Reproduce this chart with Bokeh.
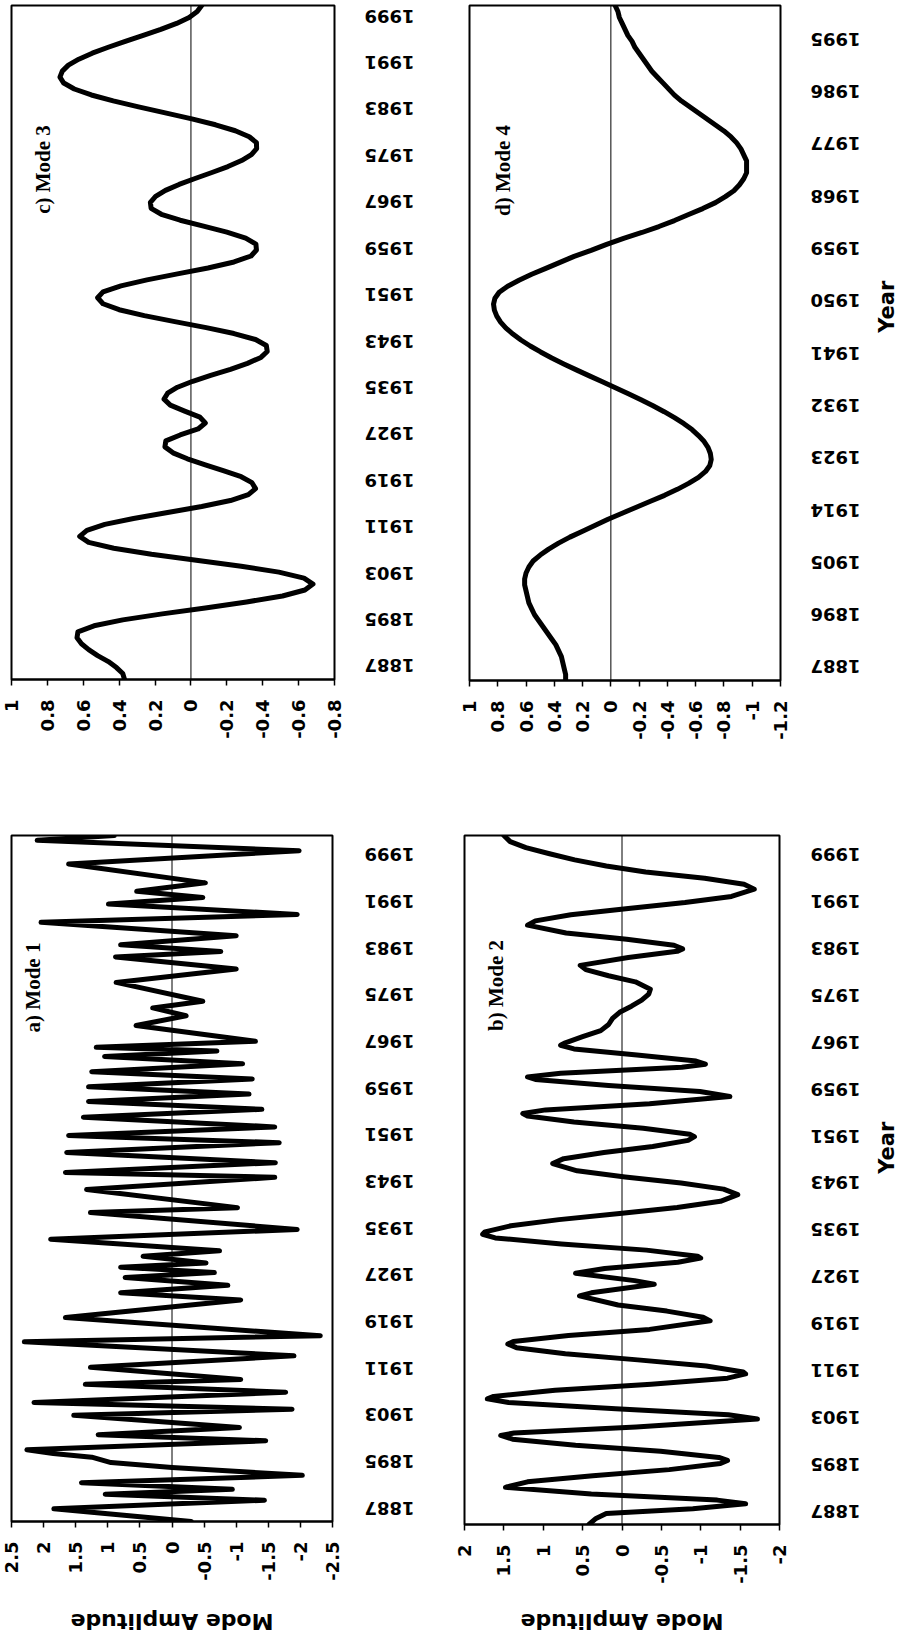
import math
from bokeh.plotting import figure
from bokeh.models import Range1d, FixedTicker, Span, Label, NumeralTickFormatter
from bokeh.core.properties import value
from bokeh.layouts import row, column
from bokeh.embed import file_html
from bokeh.resources import INLINE

# ---------------- data ----------------
YEARS = list(range(1887, 2001))

MODE3 = [0.37, 0.38, 0.415, 0.46, 0.52, 0.57, 0.61, 0.635, 0.63, 0.54,
         0.38, 0.16, -0.08, -0.31, -0.51, -0.635, -0.68, -0.63, -0.49, -0.28,
         -0.03, 0.22, 0.43, 0.57, 0.62, 0.58, 0.48, 0.32, 0.13, -0.06,
         -0.22, -0.32, -0.36, -0.34, -0.28, -0.18, -0.08, 0.02, 0.10, 0.145,
         0.14, 0.06, -0.04, -0.08, -0.05, 0.035, 0.115, 0.15, 0.13, 0.075,
         -0.01, -0.11, -0.22, -0.315, -0.39, -0.425, -0.42, -0.36, -0.24, -0.085,
         0.09, 0.26, 0.40, 0.49, 0.52, 0.49, 0.39, 0.245, 0.075, -0.095,
         -0.24, -0.335, -0.365, -0.362, -0.305, -0.20, -0.07, 0.06, 0.165, 0.222,
         0.226, 0.197, 0.142, 0.066, -0.023, -0.117, -0.206, -0.282, -0.337, -0.366,
         -0.365, -0.325, -0.247, -0.137, -0.005, 0.143, 0.292, 0.433, 0.555, 0.65,
         0.709, 0.73, 0.717, 0.683, 0.625, 0.55, 0.461, 0.366, 0.266, 0.168,
         0.08, 0.01, -0.035, -0.06]

MODE4 = [0.32, 0.32, 0.33, 0.34, 0.35, 0.37, 0.39, 0.42, 0.45, 0.48,
         0.51, 0.54, 0.56, 0.58, 0.59, 0.60, 0.61, 0.61, 0.60, 0.58,
         0.55, 0.50, 0.44, 0.37, 0.29, 0.20, 0.11, 0.02, -0.08, -0.18,
         -0.28, -0.38, -0.47, -0.55, -0.62, -0.67, -0.70, -0.71, -0.704, -0.688,
         -0.66, -0.62, -0.574, -0.517, -0.45, -0.377, -0.298, -0.213, -0.124, -0.032,
         0.06, 0.152, 0.244, 0.333, 0.418, 0.497, 0.57, 0.636, 0.693, 0.742,
         0.78, 0.807, 0.824, 0.83, 0.82, 0.79, 0.73, 0.65, 0.56, 0.46,
         0.36, 0.26, 0.14, 0.03, -0.09, -0.22, -0.34, -0.45, -0.55, -0.65,
         -0.74, -0.81, -0.87, -0.91, -0.94, -0.96, -0.96, -0.96, -0.94, -0.92,
         -0.89, -0.85, -0.80, -0.74, -0.68, -0.62, -0.56, -0.50, -0.45, -0.41,
         -0.37, -0.33, -0.29, -0.26, -0.23, -0.20, -0.17, -0.15, -0.12, -0.10,
         -0.08, -0.06, -0.05, -0.03]

MODE2_YEARS = [1887, 1888, 1888.8, 1889.6, 1890.4, 1891, 1892, 1893.1, 1894, 1895,
               1896, 1897, 1897.5, 1898, 1899, 1900, 1901, 1901.6, 1902, 1903,
               1904.3, 1905, 1906, 1907, 1907.6, 1908, 1909, 1910, 1911, 1911.7,
               1912, 1913, 1914, 1915, 1916, 1916.6, 1917, 1918, 1919, 1920.4,
               1921, 1922, 1923, 1924.5, 1925, 1926.4, 1927, 1928.2, 1929, 1930,
               1930.7, 1931, 1932, 1933, 1934, 1934.6, 1935, 1936, 1937, 1938,
               1939, 1940, 1941.1, 1942, 1943, 1944, 1945, 1946.2, 1947, 1948,
               1949, 1950, 1950.6, 1951, 1952, 1953, 1954, 1954.4, 1955, 1956,
               1957.2, 1958, 1959, 1960, 1960.4, 1961, 1962, 1962.5, 1963, 1964,
               1965, 1965.6, 1966, 1967, 1968, 1969, 1970, 1971, 1972, 1973,
               1974, 1974.8, 1976, 1977, 1978, 1978.7, 1980, 1981, 1981.4, 1982,
               1983, 1984, 1985.3, 1986, 1987, 1988, 1989, 1990, 1991.2, 1992,
               1993, 1994, 1995, 1996, 1997, 1998, 1999, 2000]
MODE2 = [0.42, 0.33, 0.20, -0.90, -1.57, -1.21, 0.39, 1.48, 1.20, 0.37,
         -0.60, -1.25, -1.34, -1.23, -0.49, 0.59, 1.39, 1.54, 1.37, -0.18,
         -1.72, -1.35, 0.08, 1.44, 1.71, 1.63, 0.85, -0.37, -1.34, -1.57,
         -1.54, -1.07, -0.20, 0.72, 1.34, 1.45, 1.38, 0.68, -0.35, -1.12,
         -1.03, -0.57, 0.05, 0.54, 0.39, -0.41, -0.16, 0.59, 0.22, -0.71,
         -1.00, -0.96, -0.31, 0.77, 1.61, 1.77, 1.74, 1.41, 0.80, 0.03,
         -0.70, -1.25, -1.47, -1.29, -0.75, -0.04, 0.57, 0.88, 0.74, 0.23,
         -0.39, -0.84, -0.92, -0.86, -0.27, 0.61, 1.20, 1.26, 0.97, -0.35,
         -1.37, -0.99, 0.17, 1.10, 1.20, 0.78, -0.76, -1.06, -0.94, -0.19,
         0.61, 0.78, 0.72, 0.50, 0.27, 0.17, 0.12, 0.03, -0.12, -0.25,
         -0.34, -0.36, -0.17, 0.17, 0.46, 0.53, -0.08, -0.70, -0.77, -0.66,
         -0.06, 0.71, 1.20, 1.10, 0.65, -0.05, -0.80, -1.39, -1.68, -1.55,
         -1.05, -0.30, 0.20, 0.60, 0.92, 1.22, 1.42, 1.50]

MODE1_YEARS = [1887.0, 1889.1, 1890.5, 1891.5, 1892.3, 1893.4, 1894.6, 1895.9, 1896.7, 1897.6,
               1898.2, 1898.8, 1900.3, 1901.3, 1902.5, 1904.5, 1905.5, 1906.6, 1908.3, 1909.6,
               1910.4, 1912.4, 1914.3, 1916.6, 1917.6, 1920.6, 1923.5, 1924.7, 1925.9, 1927.2,
               1928.0, 1928.9, 1929.6, 1930.7, 1931.6, 1933.5, 1935.1, 1937.9, 1938.7, 1941.7,
               1943.7, 1944.5, 1946.1, 1947.8, 1949.4, 1950.6, 1952.0, 1953.6, 1954.9, 1956.2,
               1957.4, 1958.6, 1959.9, 1961.1, 1962.4, 1963.6, 1964.5, 1965.1, 1966.1, 1968.7,
               1970.3, 1971.6, 1972.7, 1975.8, 1978.0, 1980.0, 1980.9, 1982.0, 1983.5, 1985.7,
               1987.0, 1988.7, 1989.8, 1990.8, 1992.2, 1995.3, 1997.5, 1999.2, 2000.0]
MODE1 = [-0.30, 1.84, -1.44, 1.04, -0.94, 1.41, -2.03, 0.0, 0.95, 1.25,
         1.85, 2.26, -1.46, 1.15, -1.05, 1.53, -1.87, 2.15, -1.77, 1.35,
         -1.07, 1.27, -1.90, 2.30, -2.31, 1.66, -1.07, 0.80, -0.87, 0.73,
         -0.66, 0.80, -0.53, 0.45, -0.74, 1.89, -1.95, 1.27, -1.02, 1.33,
         -1.60, 1.66, -1.61, 1.64, -1.67, 1.61, -1.60, 1.38, -1.40, 1.30,
         -1.20, 1.30, -1.25, 1.25, -1.10, 1.05, -0.70, 1.18, -1.30, 0.56,
         -0.22, 0.30, -0.48, 0.87, -1.00, 0.88, -0.76, 0.80, -1.00, 2.04,
         -1.95, 0.99, -0.48, 0.55, -0.52, 1.61, -1.98, 2.10, 0.90]

YEAR_TICKS_8 = [1887, 1895, 1903, 1911, 1919, 1927, 1935, 1943, 1951, 1959, 1967, 1975, 1983, 1991, 1999]
YEAR_TICKS_9 = [1887, 1896, 1905, 1914, 1923, 1932, 1941, 1950, 1959, 1968, 1977, 1986, 1995]

AMP_TICKS_A = [2.5, 2, 1.5, 1, 0.5, 0, -0.5, -1, -1.5, -2, -2.5]
AMP_TICKS_B = [2, 1.5, 1, 0.5, 0, -0.5, -1, -1.5, -2]
AMP_TICKS_C = [1, 0.8, 0.6, 0.4, 0.2, 0, -0.2, -0.4, -0.6, -0.8]
AMP_TICKS_D = [1, 0.8, 0.6, 0.4, 0.2, 0, -0.2, -0.4, -0.6, -0.8, -1, -1.2]

TITLES = ["a) Mode 1", "b) Mode 2", "c) Mode 3", "d) Mode 4"]
AMP_LABEL = "Mode Amplitude"
YEAR_LABEL = "Year"

SANS = "DejaVu Sans"
SERIF = "Liberation Serif"
YEAR_RANGE = (1887, 2000)


def bare_figure(width, height, x_range, y_range, borders):
    bl, br, bt, bb = borders
    f = figure(width=width, height=height, x_range=x_range, y_range=y_range,
               output_backend="svg", toolbar_location=None,
               x_axis_location=None, y_axis_location=None,
               min_border_left=bl, min_border_right=br,
               min_border_top=bt, min_border_bottom=bb)
    f.outline_line_color = None
    f.background_fill_color = "white"
    f.border_fill_color = "white"
    f.xgrid.visible = False
    f.ygrid.visible = False
    return f


def make_panel(width, height, borders, amp_ticks, xs, ys, title, title_pos):
    bl, br, bt, bb = borders
    p = figure(width=width, height=height,
               x_range=Range1d(amp_ticks[0], amp_ticks[-1]),
               y_range=Range1d(*YEAR_RANGE),
               output_backend="svg", toolbar_location=None,
               x_axis_location="below", y_axis_location=None,
               min_border_left=bl, min_border_right=br,
               min_border_top=bt, min_border_bottom=bb)
    p.background_fill_color = "white"
    p.border_fill_color = "white"
    p.outline_line_color = "black"
    p.outline_line_width = 2
    p.xgrid.visible = False
    p.ygrid.visible = False

    xa = p.xaxis[0]
    xa.ticker = FixedTicker(ticks=amp_ticks, minor_ticks=[])
    xa.formatter = NumeralTickFormatter(format="0.[0]")
    xa.major_label_orientation = math.pi / 2
    xa.major_tick_out = 6
    xa.major_tick_in = 0
    xa.minor_tick_out = 0
    xa.minor_tick_in = 0
    xa.axis_line_color = "black"
    xa.axis_line_width = 2
    xa.major_tick_line_width = 1.5
    xa.major_label_standoff = 14
    xa.major_label_text_font = SANS
    xa.major_label_text_font_style = "bold"
    xa.major_label_text_font_size = "18px"
    xa.major_label_text_color = "black"

    p.add_layout(Span(location=0, dimension="height", line_color="black", line_width=1))
    p.line(xs, ys, line_color="black", line_width=5, line_join="round", line_cap="round")

    p.add_layout(Label(x=title_pos[0], y=title_pos[1], x_units="screen", y_units="screen",
                       text=title, angle=math.pi / 2, text_align="center",
                       text_baseline="middle", text_font=SERIF,
                       text_font_style="bold", text_font_size="21px",
                       text_color="black"))
    return p


def year_strip(panel, width, year_ticks, label_x, with_title=False, title_x=None):
    # same pixel-per-year scale as the panel, frame padded so edge labels are not cut
    bt, bb = panel.min_border_top, panel.min_border_bottom
    fh = panel.height - bt - bb
    ypp = (YEAR_RANGE[1] - YEAR_RANGE[0]) / fh
    pt, pb_ = min(14, bt), min(14, bb)
    yr = Range1d(YEAR_RANGE[0] - pb_ * ypp, YEAR_RANGE[1] + pt * ypp)
    f = bare_figure(width, panel.height, Range1d(0, width), yr,
                    (0, 0, bt - pt, bb - pb_))
    f.text(x=[label_x] * len(year_ticks), y=year_ticks, text=[str(y) for y in year_ticks],
           angle=math.pi, text_align="center", text_baseline="middle",
           text_font=value(SANS), text_font_style=value("bold"),
           text_font_size=value("18px"), text_color="black")
    if with_title:
        f.text(x=[title_x], y=[1949], text=[YEAR_LABEL], angle=math.pi / 2,
               text_align="center", text_baseline="middle",
               text_font=value(SANS), text_font_style=value("bold"),
               text_font_size=value("21px"), text_color="black")
    return f


def amp_label_strip(panel, height):
    f = bare_figure(panel.width, height, panel.x_range, Range1d(0, height),
                    (panel.min_border_left, panel.min_border_right, 0, 0))
    f.text(x=[0], y=[15], text=[AMP_LABEL], angle=math.pi,
           text_align="center", text_baseline="middle",
           text_font=value(SANS), text_font_style=value("bold"),
           text_font_size=value("22px"), text_color="black")
    return f


pc = make_panel(346, 782, (11, 12, 5, 103), AMP_TICKS_C, MODE3, YEARS, TITLES[2], (31, 510))
pa = make_panel(346, 804, (11, 14, 53, 65), AMP_TICKS_A, MODE1, MODE1_YEARS, TITLES[0], (21, 534))
pd = make_panel(355, 782, (32, 12, 5, 102), AMP_TICKS_D, MODE4, YEARS, TITLES[3], (33, 510))
pb = make_panel(355, 804, (27, 13, 53, 60), AMP_TICKS_B, MODE2, MODE2_YEARS, TITLES[1], (31, 539))

sc = year_strip(pc, 91, YEAR_TICKS_8, 43)
sa = year_strip(pa, 91, YEAR_TICKS_8, 43)
sd = year_strip(pd, 107, YEAR_TICKS_9, 43, with_title=True, title_x=94)
sb = year_strip(pb, 107, YEAR_TICKS_8, 43, with_title=True, title_x=94)

la = amp_label_strip(pa, 50)
lb = amp_label_strip(pb, 50)

layout = row(column(row(pc, sc), row(pa, sa), la),
             column(row(pd, sd), row(pb, sb), lb))

with open("out.html", "w") as f:
    f.write(file_html(layout, INLINE))
